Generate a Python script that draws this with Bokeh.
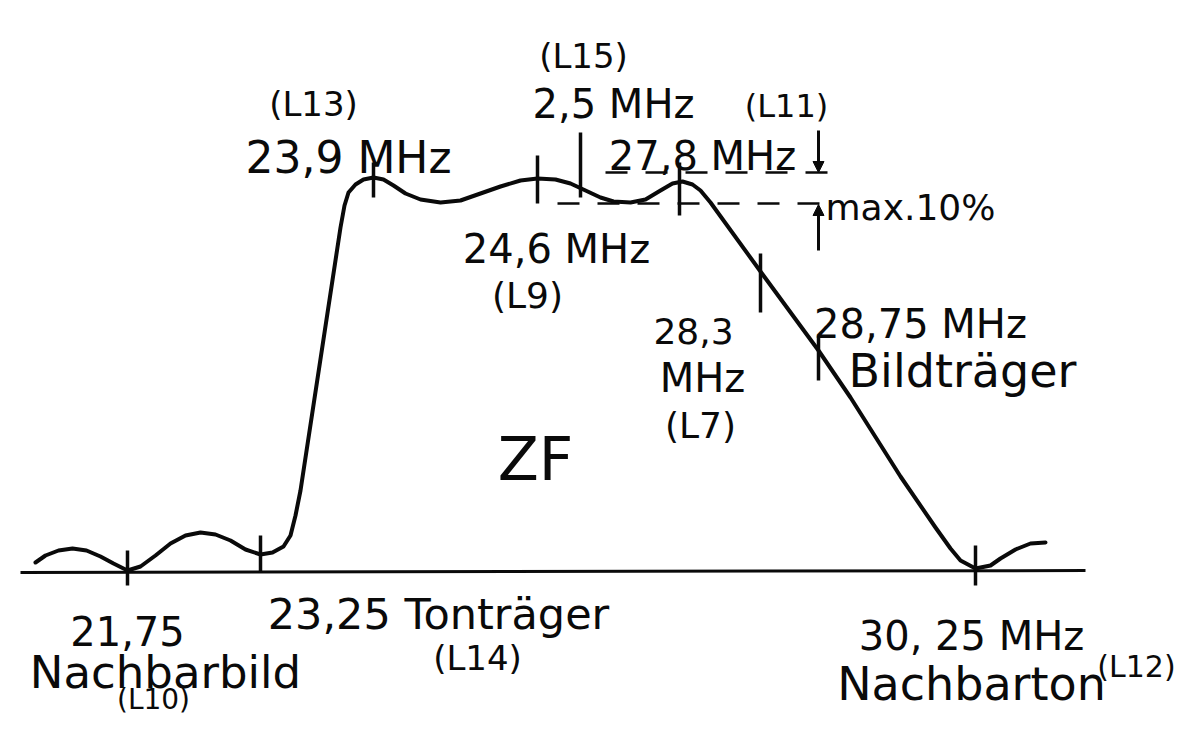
from bokeh.plotting import figure
from bokeh.models import Range1d, ColumnDataSource, Arrow, NormalHead
from bokeh.core.properties import value
from bokeh.embed import file_html
from bokeh.resources import INLINE

# ZF (IF) response curve, traced in drawing coordinates (x right, y down)
curve_x = [35, 45, 58, 72, 86, 100, 113, 127, 140, 155, 170, 185, 200, 215, 230, 245,
           260, 272, 283, 290, 295, 300, 340, 344, 348, 355, 363, 373, 383, 393, 405,
           420, 440, 460, 480, 500, 520, 537, 555, 570, 585, 600, 613, 630, 645, 660,
           672, 682, 692, 700, 710, 760, 818, 850, 900, 935, 950, 960, 975, 990, 1000,
           1015, 1030, 1045]
curve_y = [562, 555, 550, 548, 550, 556, 563, 570, 566, 555, 543, 535, 532, 534, 540, 549,
           554, 552, 546, 535, 515, 490, 227, 205, 192, 184, 179, 177, 179, 185, 193,
           199, 202, 200, 193, 186, 180, 178, 179, 183, 190, 197, 201, 202, 199, 190,
           183, 181, 184, 190, 202, 271, 350, 397, 476, 527, 548, 560, 568, 565, 558,
           549, 543, 542]

base_x = [20, 1085]
base_y = [572, 570]

# frequency marks (MHz) on the curve
mark_freq = ["21,75", "23,25", "23,9", "24,6", "2,5", "27,8", "28,3", "28,75", "30,25"]
mark_x = [127, 260, 373, 537, 580, 679, 760, 818, 975]
mark_top = [550, 535, 162, 155, 132, 162, 253, 335, 545]
mark_bot = [585, 572, 197, 203, 197, 215, 312, 380, 585]

# max. 10 % ripple band
band_y = [172, 203]
band_x0 = [605, 557]
band_x1 = [828, 828]
arrow_x = [818, 818]
arrow_y0 = [130, 250]
arrow_y1 = [172, 204]

label_text = ["(L13)", "23,9 MHz", "(L15)", "2,5 MHz", "(L11)", "27,8 MHz", "max.10%",
              "24,6 MHz", "(L9)", "28,3", "MHz", "(L7)", "ZF", "28,75 MHz", "Bildträger",
              "21,75", "Nachbarbild", "(L10)", "23,25 Tonträger", "(L14)", "30, 25 MHz",
              "Nachbarton", "(L12)"]
label_x = [313, 348, 583, 613, 786, 702, 910, 556, 527, 693, 702, 700, 535, 920, 962,
           127, 165, 153, 438, 477, 971, 971, 1136]
label_y = [103, 157, 55, 103, 105, 155, 207, 248, 295, 330, 377, 425, 458, 323, 370,
           630, 672, 699, 613, 657, 635, 683, 666]
label_size = [34, 44, 34, 40, 32, 40, 36, 40, 36, 36, 40, 36, 60, 40, 46,
              40, 45, 28, 43, 34, 40, 46, 30]

W, H = 1179, 720
p = figure(width=W, height=H, output_backend="svg", toolbar_location=None,
           x_range=Range1d(0, W), y_range=Range1d(H, 0),
           min_border=0, outline_line_color=None, background_fill_color="white",
           border_fill_color="white")
p.xaxis.visible = False
p.yaxis.visible = False
p.grid.visible = False

ink = "#0a0a0a"

p.line(base_x, base_y, line_color=ink, line_width=3)
p.line(curve_x, curve_y, line_color=ink, line_width=4, line_join="round", line_cap="round")
p.segment(x0=mark_x, y0=mark_top, x1=mark_x, y1=mark_bot, line_color=ink, line_width=3.5)
p.segment(x0=band_x0, y0=band_y, x1=band_x1, y1=band_y, line_color=ink, line_width=2.5,
          line_dash="22 18")

for ax, ay0, ay1 in zip(arrow_x, arrow_y0, arrow_y1):
    p.add_layout(Arrow(end=NormalHead(size=11, fill_color=ink, line_color=ink),
                       x_start=ax, y_start=ay0, x_end=ax, y_end=ay1,
                       line_color=ink, line_width=3))

src = ColumnDataSource(dict(x=label_x, y=label_y, t=label_text,
                            s=[f"{s}px" for s in label_size]))
p.text(x="x", y="y", text="t", source=src, text_font_size="s",
       text_font=value("DejaVu Sans"), text_color=ink,
       text_align="center", text_baseline="alphabetic")

open("out.html", "w").write(file_html(p, INLINE))
